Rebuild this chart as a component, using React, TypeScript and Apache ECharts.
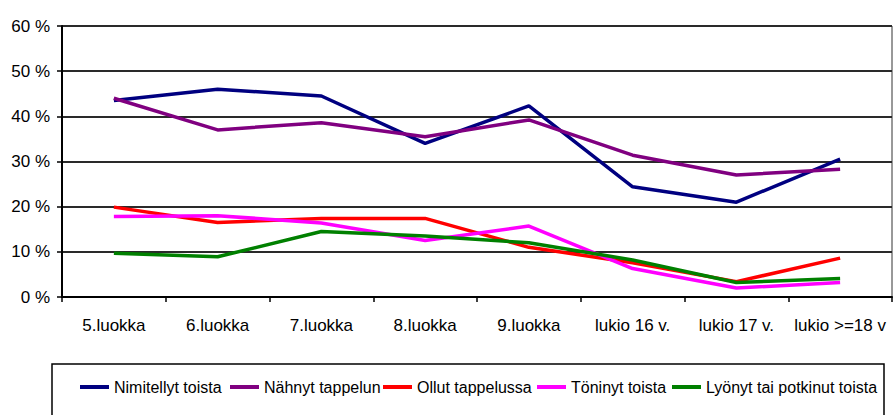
import React, { useEffect, useRef } from "react";
import * as echarts from "echarts";

const categories = ["5.luokka", "6.luokka", "7.luokka", "8.luokka", "9.luokka", "lukio 16 v.", "lukio 17 v.", "lukio >=18 v"];
const seriesNames = ["Nimitellyt toista", "Nähnyt tappelun", "Ollut tappelussa", "Töninyt toista", "Lyönyt tai potkinut toista"];
const nimitellyt = [43.5, 46, 44.5, 34, 42.3, 24.4, 21, 30.5];
const nahnyt = [44, 37, 38.6, 35.5, 39.2, 31.4, 27, 28.3];
const ollut = [19.9, 16.5, 17.4, 17.4, 11, 7.6, 3.4, 8.6];
const toninyt = [17.8, 18, 16.4, 12.5, 15.7, 6.3, 2, 3.2];
const lyonyt = [9.7, 8.9, 14.5, 13.5, 12, 8.2, 3.2, 4.1];
const seriesValues = [nimitellyt, nahnyt, ollut, toninyt, lyonyt];
const colors = ["#000080", "#800080", "#FF0000", "#FF00FF", "#008000"];
const legendLefts = [80, 230, 383, 537, 672];

const FONT = "'Liberation Sans', Arial, sans-serif";

export default function App() {
  const ref = useRef<HTMLDivElement>(null);
  useEffect(() => {
    if (!ref.current) return;
    const chart = echarts.init(ref.current, null, { renderer: "svg" });
    chart.setOption({
      animation: false,
      backgroundColor: "#ffffff",
      textStyle: { fontFamily: FONT },
      grid: {
        left: 62,
        top: 26,
        right: 1,
        bottom: 118,
        show: true,
        borderColor: "#333",
        borderWidth: 1,
      },
      xAxis: {
        type: "category",
        data: categories,
        boundaryGap: true,
        axisLine: { show: true, lineStyle: { color: "#000", width: 2 } },
        axisTick: { show: true, length: 5, lineStyle: { color: "#000", width: 1.5 } },
        axisLabel: { interval: 0, margin: 20, color: "#000", fontSize: 17, fontFamily: FONT },
        splitLine: { show: false },
      },
      yAxis: {
        type: "value",
        min: 0,
        max: 60,
        interval: 10,
        axisLine: { show: true, lineStyle: { color: "#000", width: 2 } },
        axisTick: { show: true, length: 5, lineStyle: { color: "#000", width: 1.5 } },
        axisLabel: { formatter: "{value} %", margin: 12, color: "#000", fontSize: 17, fontFamily: FONT },
        splitLine: { show: true, lineStyle: { color: "#2a2a2a", width: 2 } },
      },
      legend: seriesNames.map((name, i) => ({
        data: [name],
        left: legendLefts[i],
        top: 379,
        padding: 0,
        itemWidth: 29,
        itemHeight: 4,
        icon: "rect",
        itemGap: 0,
        textStyle: { color: "#000", fontSize: 16, fontFamily: FONT, padding: [0, 0, 0, 0] },
      })),
      graphic: [
        {
          type: "rect",
          shape: { x: 52, y: 364, width: 832, height: 80 },
          style: { fill: "none", stroke: "#000", lineWidth: 1.5 },
          z: 0,
          silent: true,
        },
      ],
      series: seriesNames.map((name, i) => ({
        name,
        type: "line",
        data: seriesValues[i],
        symbol: "none",
        lineStyle: { color: colors[i], width: 3.5 },
        itemStyle: { color: colors[i] },
      })),
    });
    return () => chart.dispose();
  }, []);
  return (
    <div
      ref={ref}
      style={{ position: "fixed", left: 0, top: 0, width: 893, height: 415 }}
    />
  );
}
